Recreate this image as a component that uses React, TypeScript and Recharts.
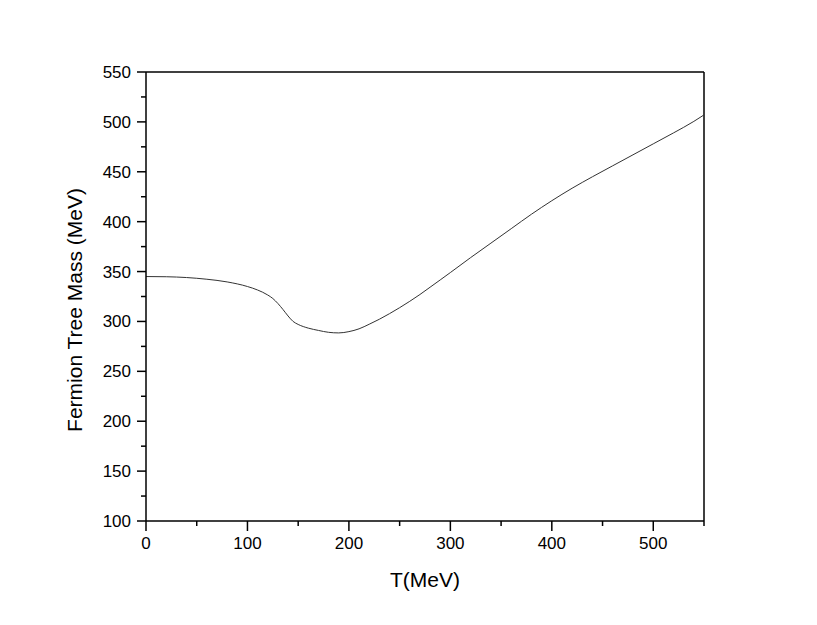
import React from 'react';
import { LineChart, Line, XAxis, YAxis, ReferenceLine } from 'recharts';

// T (MeV) and fermion tree mass (MeV)
const temps = [0, 20, 40, 60, 80, 100, 110, 120, 125, 130, 135, 140, 145, 150, 160, 170, 180, 190, 200, 210, 220, 230, 240, 250, 260, 270, 280, 290, 300, 320, 340, 360, 380, 400, 420, 440, 460, 480, 500, 520, 540, 550];
const masses = [345, 344.8, 344, 342.3, 339.6, 335, 331.5, 326.5, 323, 318, 312, 305.5, 300, 297, 293.3, 291, 289.1, 288.5, 289.8, 292.6, 297.2, 302.2, 307.8, 313.8, 320.2, 327, 334.3, 341.6, 349, 364, 378.5, 393, 407.5, 421, 433.5, 445, 456, 467, 478, 489, 500.5, 507];

const xTicks = [0, 50, 100, 150, 200, 250, 300, 350, 400, 450, 500, 550];
const yTicks = [100, 125, 150, 175, 200, 225, 250, 275, 300, 325, 350, 375, 400, 425, 450, 475, 500, 525, 550];

const data = temps.map((t, i) => ({ t, m: masses[i] }));

const FONT = '"Liberation Sans", Arial, sans-serif';

const XTick = ({ x, y, payload }: any) => {
  const major = payload.value % 100 === 0;
  return (
    <g>
      <line x1={x} x2={x} y1={y} y2={y + (major ? 10 : 5)} stroke="#000" strokeWidth={1.5} />
      {major && (
        <text x={x} y={y + 28} textAnchor="middle" fontSize={17} fontFamily={FONT} fill="#000">
          {payload.value}
        </text>
      )}
    </g>
  );
};

const YTick = ({ x, y, payload }: any) => {
  const major = payload.value % 50 === 0;
  return (
    <g>
      <line x1={x} x2={x - (major ? 9 : 5)} y1={y} y2={y} stroke="#000" strokeWidth={1.5} />
      {major && (
        <text x={x - 15} y={y + 6} textAnchor="end" fontSize={17} fontFamily={FONT} fill="#000">
          {payload.value}
        </text>
      )}
    </g>
  );
};

const App = () => {
  return (
    <div style={{ width: 801, height: 609, background: '#fff' }}>
      <LineChart width={801} height={609} data={data} margin={{ top: 64, right: 105, bottom: 66, left: 78 }}>
        <XAxis
          dataKey="t"
          type="number"
          domain={[0, 550]}
          ticks={xTicks}
          interval={0}
          height={30}
          tickSize={0}
          tickMargin={0}
          tickLine={false}
          tick={<XTick />}
          axisLine={{ stroke: '#000', strokeWidth: 1.5 }}
          label={{
            content: () => (
              <text x={417} y={579} textAnchor="middle" fontSize={21} fontFamily={FONT} fill="#000">
                T(MeV)
              </text>
            ),
          }}
        />
        <YAxis
          type="number"
          domain={[100, 550]}
          ticks={yTicks}
          interval={0}
          width={60}
          tickSize={0}
          tickMargin={0}
          tickLine={false}
          tick={<YTick />}
          axisLine={{ stroke: '#000', strokeWidth: 1.5 }}
          label={{
            content: () => (
              <text
                x={74}
                y={302}
                transform="rotate(-90 74 302)"
                textAnchor="middle"
                fontSize={21}
                fontFamily={FONT}
                fill="#000"
              >
                Fermion Tree Mass (MeV)
              </text>
            ),
          }}
        />
        <ReferenceLine y={550} stroke="#000" strokeWidth={1.5} />
        <ReferenceLine x={550} stroke="#000" strokeWidth={1.5} />
        <Line
          type="monotone"
          dataKey="m"
          stroke="#333"
          strokeWidth={1}
          dot={false}
          isAnimationActive={false}
        />
      </LineChart>
    </div>
  );
};

export default App;
